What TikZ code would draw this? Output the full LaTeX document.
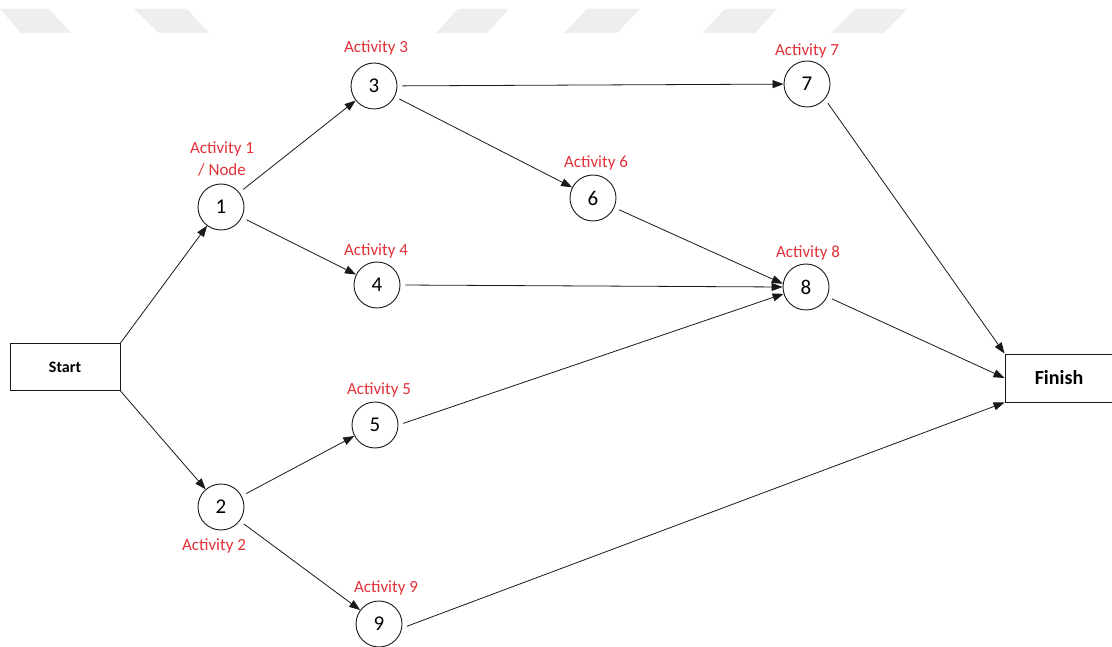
\documentclass[tikz,border=0pt]{standalone}
\usepackage{fontspec}
\setmainfont{Carlito}
\usetikzlibrary{arrows.meta}
\definecolor{actred}{RGB}{226,50,58}
\definecolor{band}{RGB}{238,238,238}
\definecolor{ink}{RGB}{25,25,25}
\tikzset{
  evt/.style={circle, draw=ink, line width=0.9pt, minimum size=46pt, inner sep=0pt,
              font=\fontsize{21}{23}\selectfont},
  endbox/.style={rectangle, draw=ink, line width=0.9pt, inner sep=0pt,
                 font=\bfseries},
  actlbl/.style={text=actred, font=\fontsize{17}{22}\selectfont, align=center},
  link/.style={draw=ink, line width=0.8pt, shorten <=5pt,
               -{Triangle[length=11pt,width=8pt]}},
  boxlink/.style={draw=ink, line width=0.8pt,
               -{Triangle[length=11pt,width=8pt]}}
}
\begin{document}
\begin{tikzpicture}[x=1pt,y=-1pt]
\useasboundingbox (0,0) rectangle (1112,647);
\fill[white] (0,0) rectangle (1112,647);

% grey bands along the top edge
\fill[band] (0,9) -- (49,9) -- (71,33) -- (21,33) -- cycle;
\fill[band] (134,9) -- (187,9) -- (209,33) -- (159,33) -- cycle;
\fill[band] (458,9) -- (509,9) -- (487,33) -- (436,33) -- cycle;
\fill[band] (587,9) -- (640,9) -- (617,33) -- (564,33) -- cycle;
\fill[band] (725,9) -- (777,9) -- (755,33) -- (702,33) -- cycle;
\fill[band] (855,9) -- (907,9) -- (884,33) -- (831,33) -- cycle;

% start and finish
\node[endbox, minimum width=110pt, minimum height=47pt,
      font=\bfseries\fontsize{16}{18}\selectfont] (start) at (65,367) {Start};
\node[endbox, minimum width=108pt, minimum height=48pt,
      font=\bfseries\fontsize{20}{22}\selectfont] (finish) at (1059,378) {Finish};

% activity nodes
\node[evt] (n1) at (221,207) {1};
\node[evt] (n2) at (221,507) {2};
\node[evt] (n3) at (374,86) {3};
\node[evt] (n4) at (377,285) {4};
\node[evt] (n5) at (375,425) {5};
\node[evt] (n6) at (593,198) {6};
\node[evt] (n7) at (807,84) {7};
\node[evt] (n8) at (806,287) {8};
\node[evt] (n9) at (379,624) {9};

% activity labels
\node[actlbl] (l1) at (222,159) {Activity 1\\/ Node};
\node[actlbl] (l2) at (214,546) {Activity 2};
\node[actlbl] (l3) at (376,48) {Activity 3};
\node[actlbl] (l4) at (376,251) {Activity 4};
\node[actlbl] (l5) at (379,390) {Activity 5};
\node[actlbl] (l6) at (596,163) {Activity 6};
\node[actlbl] (l7) at (807,51) {Activity 7};
\node[actlbl] (l8) at (808,253) {Activity 8};
\node[actlbl] (l9) at (386,588) {Activity 9};

% precedence links
\draw[boxlink] (start.north east) -- (n1);
\draw[boxlink] (start.south east) -- (n2);
\draw[link] (n1) -- (n3);
\draw[link] (n1) -- (n4);
\draw[link] (n3) -- (n7);
\draw[link] (n3) -- (n6);
\draw[link] (n6) -- (n8.172);
\draw[link] (n4.east) -- (n8.west);
\draw[link] (n5.east) -- (n8.197);
\draw[link] (n2) -- (n5);
\draw[link] (n2) -- (n9);
\draw[link] (n7.-40) -- (finish.north west);
\draw[link] (n8) -- (finish.west);
\draw[link] (n9.-10) -- (finish.south west);
\end{tikzpicture}
\end{document}
